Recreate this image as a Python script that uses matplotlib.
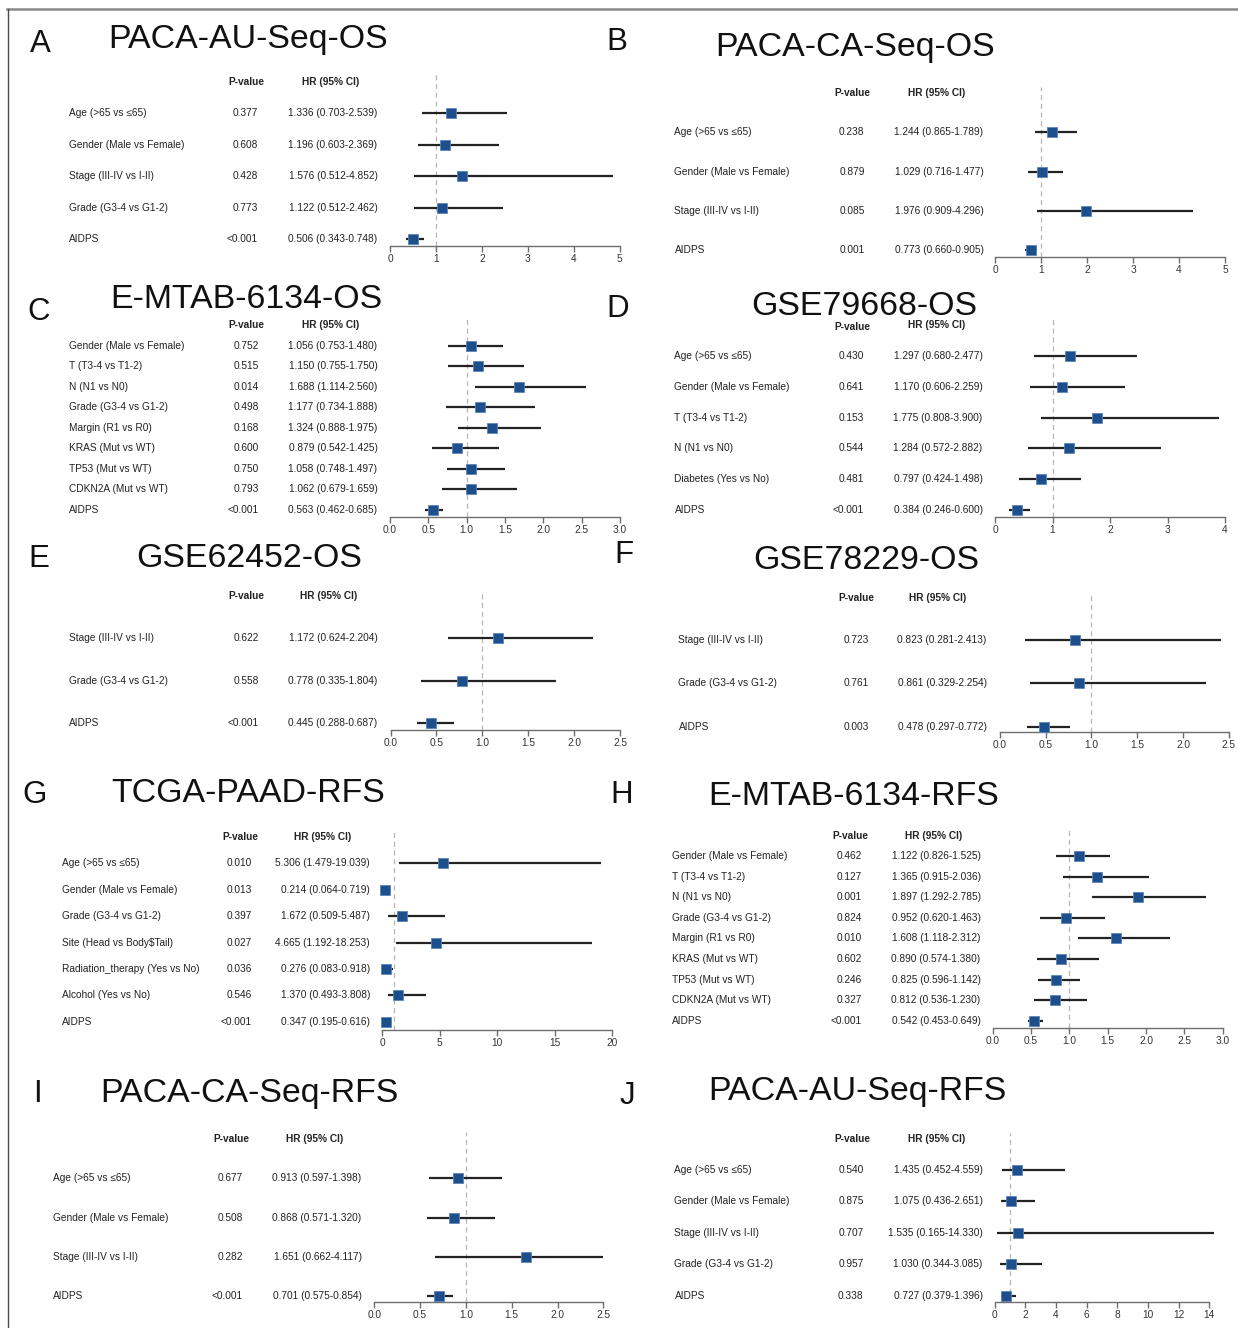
import matplotlib
matplotlib.use("Agg")
import matplotlib.pyplot as plt
from matplotlib.transforms import blended_transform_factory
from matplotlib.lines import Line2D

plt.rcParams['font.family'] = ['Liberation Sans', 'DejaVu Sans']

W, H, DPI = 1238, 1328, 100
fig = plt.figure(figsize=(W / DPI, H / DPI), dpi=DPI)

TXT = "#222222"
SQ = "#1c4f8c"

# ---------------- data ----------------
a_vars = ["Age (>65 vs \u226465)", "Gender (Male vs Female)", "Stage (III-IV vs I-II)",
          "Grade (G3-4 vs G1-2)", "AIDPS"]
a_p = ["0.377", "0.608", "0.428", "0.773", "<0.001"]
a_hr = [1.336, 1.196, 1.576, 1.122, 0.506]
a_lo = [0.703, 0.603, 0.512, 0.512, 0.343]
a_hi = [2.539, 2.369, 4.852, 2.462, 0.748]

b_vars = ["Age (>65 vs \u226465)", "Gender (Male vs Female)", "Stage (III-IV vs I-II)", "AIDPS"]
b_p = ["0.238", "0.879", "0.085", "0.001"]
b_hr = [1.244, 1.029, 1.976, 0.773]
b_lo = [0.865, 0.716, 0.909, 0.660]
b_hi = [1.789, 1.477, 4.296, 0.905]

c_vars = ["Gender (Male vs Female)", "T (T3-4 vs T1-2)", "N (N1 vs N0)", "Grade (G3-4 vs G1-2)",
          "Margin (R1 vs R0)", "KRAS (Mut vs WT)", "TP53 (Mut vs WT)", "CDKN2A (Mut vs WT)", "AIDPS"]
c_p = ["0.752", "0.515", "0.014", "0.498", "0.168", "0.600", "0.750", "0.793", "<0.001"]
c_hr = [1.056, 1.150, 1.688, 1.177, 1.324, 0.879, 1.058, 1.062, 0.563]
c_lo = [0.753, 0.755, 1.114, 0.734, 0.888, 0.542, 0.748, 0.679, 0.462]
c_hi = [1.480, 1.750, 2.560, 1.888, 1.975, 1.425, 1.497, 1.659, 0.685]

d_vars = ["Age (>65 vs \u226465)", "Gender (Male vs Female)", "T (T3-4 vs T1-2)", "N (N1 vs N0)",
          "Diabetes (Yes vs No)", "AIDPS"]
d_p = ["0.430", "0.641", "0.153", "0.544", "0.481", "<0.001"]
d_hr = [1.297, 1.170, 1.775, 1.284, 0.797, 0.384]
d_lo = [0.680, 0.606, 0.808, 0.572, 0.424, 0.246]
d_hi = [2.477, 2.259, 3.900, 2.882, 1.498, 0.600]

e_vars = ["Stage (III-IV vs I-II)", "Grade (G3-4 vs G1-2)", "AIDPS"]
e_p = ["0.622", "0.558", "<0.001"]
e_hr = [1.172, 0.778, 0.445]
e_lo = [0.624, 0.335, 0.288]
e_hi = [2.204, 1.804, 0.687]

f_vars = ["Stage (III-IV vs I-II)", "Grade (G3-4 vs G1-2)", "AIDPS"]
f_p = ["0.723", "0.761", "0.003"]
f_hr = [0.823, 0.861, 0.478]
f_lo = [0.281, 0.329, 0.297]
f_hi = [2.413, 2.254, 0.772]

g_vars = ["Age (>65 vs \u226465)", "Gender (Male vs Female)", "Grade (G3-4 vs G1-2)",
          "Site (Head vs Body$Tail)", "Radiation_therapy (Yes vs No)", "Alcohol (Yes vs No)", "AIDPS"]
g_p = ["0.010", "0.013", "0.397", "0.027", "0.036", "0.546", "<0.001"]
g_hr = [5.306, 0.214, 1.672, 4.665, 0.276, 1.370, 0.347]
g_lo = [1.479, 0.064, 0.509, 1.192, 0.083, 0.493, 0.195]
g_hi = [19.039, 0.719, 5.487, 18.253, 0.918, 3.808, 0.616]

h_vars = ["Gender (Male vs Female)", "T (T3-4 vs T1-2)", "N (N1 vs N0)", "Grade (G3-4 vs G1-2)",
          "Margin (R1 vs R0)", "KRAS (Mut vs WT)", "TP53 (Mut vs WT)", "CDKN2A (Mut vs WT)", "AIDPS"]
h_p = ["0.462", "0.127", "0.001", "0.824", "0.010", "0.602", "0.246", "0.327", "<0.001"]
h_hr = [1.122, 1.365, 1.897, 0.952, 1.608, 0.890, 0.825, 0.812, 0.542]
h_lo = [0.826, 0.915, 1.292, 0.620, 1.118, 0.574, 0.596, 0.536, 0.453]
h_hi = [1.525, 2.036, 2.785, 1.463, 2.312, 1.380, 1.142, 1.230, 0.649]

i_vars = ["Age (>65 vs \u226465)", "Gender (Male vs Female)", "Stage (III-IV vs I-II)", "AIDPS"]
i_p = ["0.677", "0.508", "0.282", "<0.001"]
i_hr = [0.913, 0.868, 1.651, 0.701]
i_lo = [0.597, 0.571, 0.662, 0.575]
i_hi = [1.398, 1.320, 4.117, 0.854]

j_vars = ["Age (>65 vs \u226465)", "Gender (Male vs Female)", "Stage (III-IV vs I-II)",
          "Grade (G3-4 vs G1-2)", "AIDPS"]
j_p = ["0.540", "0.875", "0.707", "0.957", "0.338"]
j_hr = [1.435, 1.075, 1.535, 1.030, 0.727]
j_lo = [0.452, 0.436, 0.165, 0.344, 0.379]
j_hi = [4.559, 2.651, 14.330, 3.085, 1.396]

ticks_a = [0, 1, 2, 3, 4, 5]
ticks_b = [0, 1, 2, 3, 4, 5]
ticks_c = [0.0, 0.5, 1.0, 1.5, 2.0, 2.5, 3.0]
ticks_d = [0, 1, 2, 3, 4]
ticks_e = [0.0, 0.5, 1.0, 1.5, 2.0, 2.5]
ticks_f = [0.0, 0.5, 1.0, 1.5, 2.0, 2.5]
ticks_g = [0, 5, 10, 15, 20]
ticks_h = [0.0, 0.5, 1.0, 1.5, 2.0, 2.5, 3.0]
ticks_i = [0.0, 0.5, 1.0, 1.5, 2.0, 2.5]
ticks_j = [0, 2, 4, 6, 8, 10, 12, 14]

# ---------------- layout (pixels) ----------------
panels = [
    dict(letter="A", title="PACA-AU-Seq-OS", vars=a_vars, p=a_p, hr=a_hr, lo=a_lo, hi=a_hi, ticks=ticks_a,
         let_xy=(30, 52), tit_xy=(108, 48), head_y=(82, 82), pcx=246.5, hcx=331, r0=113.3, r1=239,
         lab_x=69, p_r=258, hr_r=377.5, t0=390, t1=619.6, axy=246, top=72, xhi=None, dec=False),
    dict(letter="B", title="PACA-CA-Seq-OS", vars=b_vars, p=b_p, hr=b_hr, lo=b_lo, hi=b_hi, ticks=ticks_b,
         let_xy=(606, 50), tit_xy=(715, 56), head_y=(93, 93), pcx=852, hcx=937, r0=132.3, r1=250,
         lab_x=674.5, p_r=864.5, hr_r=983.4, t0=995, t1=1225, axy=257, top=87, xhi=None, dec=False),
    dict(letter="C", title="E-MTAB-6134-OS", vars=c_vars, p=c_p, hr=c_hr, lo=c_lo, hi=c_hi, ticks=ticks_c,
         let_xy=(27, 320), tit_xy=(110, 308), head_y=(325, 325), pcx=246, hcx=331, r0=345.7, r1=510,
         lab_x=69.4, p_r=259, hr_r=377.5, t0=390, t1=620, axy=517, top=318, xhi=None, dec=True),
    dict(letter="D", title="GSE79668-OS", vars=d_vars, p=d_p, hr=d_hr, lo=d_lo, hi=d_hi, ticks=ticks_d,
         let_xy=(606, 317), tit_xy=(751, 315), head_y=(327.5, 325), pcx=852, hcx=937, r0=356, r1=510,
         lab_x=674.5, p_r=863.7, hr_r=982.6, t0=995, t1=1225, axy=517, top=318, xhi=None, dec=False),
    dict(letter="E", title="GSE62452-OS", vars=e_vars, p=e_p, hr=e_hr, lo=e_lo, hi=e_hi, ticks=ticks_e,
         let_xy=(28, 567), tit_xy=(136, 567), head_y=(596, 596), pcx=246, hcx=329, r0=638, r1=723.3,
         lab_x=69, p_r=259, hr_r=377.5, t0=390.6, t1=620, axy=730, top=590, xhi=None, dec=True),
    dict(letter="F", title="GSE78229-OS", vars=f_vars, p=f_p, hr=f_hr, lo=f_lo, hi=f_hi, ticks=ticks_f,
         let_xy=(614, 563), tit_xy=(753, 569), head_y=(598, 598), pcx=856, hcx=938, r0=640, r1=726.7,
         lab_x=678.5, p_r=868.6, hr_r=986.6, t0=999.7, t1=1228.8, axy=732, top=592, xhi=None, dec=True),
    dict(letter="G", title="TCGA-PAAD-RFS", vars=g_vars, p=g_p, hr=g_hr, lo=g_lo, hi=g_hi, ticks=ticks_g,
         let_xy=(22, 803), tit_xy=(111, 802), head_y=(837, 837), pcx=240, hcx=323, r0=863.3, r1=1021.7,
         lab_x=62, p_r=252, hr_r=370, t0=382.4, t1=612, axy=1030, top=830, xhi=None, dec=False),
    dict(letter="H", title="E-MTAB-6134-RFS", vars=h_vars, p=h_p, hr=h_hr, lo=h_lo, hi=h_hi, ticks=ticks_h,
         let_xy=(610, 803), tit_xy=(708, 805), head_y=(836, 836), pcx=850, hcx=933.7, r0=856, r1=1020.7,
         lab_x=672.4, p_r=861.7, hr_r=980.5, t0=992.8, t1=1222.7, axy=1028, top=828, xhi=None, dec=True),
    dict(letter="I", title="PACA-CA-Seq-RFS", vars=i_vars, p=i_p, hr=i_hr, lo=i_lo, hi=i_hi, ticks=ticks_i,
         let_xy=(33, 1102), tit_xy=(100, 1102), head_y=(1139, 1139), pcx=231, hcx=315, r0=1178.3, r1=1296,
         lab_x=53, p_r=243, hr_r=361.6, t0=374.3, t1=603.3, axy=1302, top=1132, xhi=None, dec=True),
    dict(letter="J", title="PACA-AU-Seq-RFS", vars=j_vars, p=j_p, hr=j_hr, lo=j_lo, hi=j_hi, ticks=ticks_j,
         let_xy=(620, 1104), tit_xy=(708, 1100), head_y=(1139, 1139), pcx=852, hcx=937, r0=1170, r1=1295.7,
         lab_x=674.5, p_r=863.7, hr_r=982.6, t0=994.8, t1=1209.3, axy=1302, top=1133, xhi=14.4, dec=False),
]

FS = 7.3


def fx(px):
    return px / W


def fy(py):
    return 1 - py / H


for P in panels:
    ticks = P["ticks"]
    n = len(P["vars"])
    ppu = (P["t1"] - P["t0"]) / (ticks[-1] - ticks[0])
    xlo = ticks[0]
    xhi = P["xhi"] if P["xhi"] is not None else ticks[-1]
    ax_x0 = P["t0"] + (xlo - ticks[0]) * ppu
    ax_x1 = P["t0"] + (xhi - ticks[0]) * ppu
    dy = (P["r1"] - P["r0"]) / (n - 1)

    ax = fig.add_axes([fx(ax_x0), fy(P["axy"]), (ax_x1 - ax_x0) / W, (P["axy"] - P["top"]) / H])
    ax.set_xlim(xlo, xhi)
    ax.set_ylim((P["axy"] - P["r0"]) / dy, (P["top"] - P["r0"]) / dy)
    ax.patch.set_alpha(0)
    for s in ["top", "right", "left"]:
        ax.spines[s].set_visible(False)
    ax.spines["bottom"].set_bounds(ticks[0], ticks[-1])
    ax.spines["bottom"].set_color("#6e6e6e")
    ax.spines["bottom"].set_linewidth(1.0)
    ax.set_yticks([])
    ax.set_xticks(ticks)
    if P["dec"]:
        ax.set_xticklabels([f"{t:.1f}" for t in ticks])
    else:
        ax.set_xticklabels([f"{t:g}" for t in ticks])
    ax.tick_params(axis="x", direction="out", length=4, width=1.0, color="#6e6e6e",
                   labelsize=7.3, labelcolor="#333333", pad=2)

    ax.axvline(1, color="#b5b5b5", lw=0.9, ls=(0, (4, 3)), zorder=1)

    rows = list(range(n))
    ax.hlines(rows, P["lo"], P["hi"], color="#222222", lw=1.6, zorder=2)
    ax.plot(P["hr"], rows, ls="none", marker="s", ms=7.2, mfc=SQ, mec="#5d84b8", mew=0.6,
            zorder=3, clip_on=False)

    tr = blended_transform_factory(fig.transFigure, ax.transData)
    for i in rows:
        ax.text(fx(P["lab_x"]), i, P["vars"][i], transform=tr, ha="left", va="center",
                fontsize=FS, color=TXT, clip_on=False, parse_math=False)
        ax.text(fx(P["p_r"]), i, P["p"][i], transform=tr, ha="right", va="center",
                fontsize=FS, color=TXT, clip_on=False)
        hrtxt = f"{P['hr'][i]:.3f} ({P['lo'][i]:.3f}-{P['hi'][i]:.3f})"
        ax.text(fx(P["hr_r"]), i, hrtxt, transform=tr, ha="right", va="center",
                fontsize=FS, color=TXT, clip_on=False)

    fig.text(fx(P["pcx"]), fy(P["head_y"][0]), "P-value", ha="center", va="center",
             fontsize=FS, fontweight="bold", color=TXT)
    fig.text(fx(P["hcx"]), fy(P["head_y"][1]), "HR (95% CI)", ha="center", va="center",
             fontsize=FS, fontweight="bold", color=TXT)

    fig.text(fx(P["let_xy"][0]), fy(P["let_xy"][1]), P["letter"], ha="left", va="baseline",
             fontsize=22.5, color="#111111")
    fig.text(fx(P["tit_xy"][0]), fy(P["tit_xy"][1]), P["title"], ha="left", va="baseline",
             fontsize=24.4, color="#111111")

# outer frame lines (top and left)
fig.add_artist(Line2D([fx(7), 1.0], [fy(9), fy(9)], transform=fig.transFigure,
                      color="#8a8a8a", lw=1.8))
fig.add_artist(Line2D([fx(7.5), fx(7.5)], [fy(9), 0.0], transform=fig.transFigure,
                      color="#4a4a4a", lw=1.0))

fig.savefig("out.png", dpi=DPI, facecolor="white")
